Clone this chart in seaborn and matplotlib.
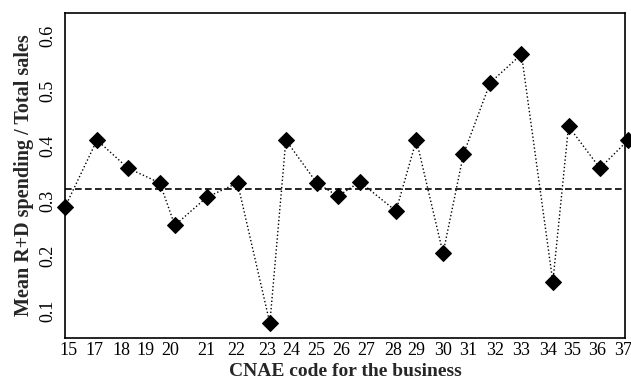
import matplotlib
matplotlib.use("Agg")
import matplotlib.pyplot as plt
import seaborn as sns
import pandas as pd

# CNAE codes (categories) and their plotted horizontal positions
cnae_codes = ["15", "17", "18", "19", "20", "21", "22", "23", "24", "25", "26",
              "27", "28", "29", "30", "31", "32", "33", "34", "35", "36", "37"]
code_pos = [0, 2.04, 4.01, 6.05, 7.0, 9.04, 11.0, 13.06, 14.08, 16.05, 17.4,
            18.8, 21.1, 22.4, 24.1, 25.4, 27.1, 29.1, 31.1, 32.1, 34.1, 35.9]
# horizontal positions of the tick labels
label_pos = [0.25, 1.85, 3.57, 5.1, 6.7, 9.0, 10.9, 12.9, 14.4, 16.0, 17.6,
             19.2, 20.9, 22.4, 24.1, 25.7, 27.4, 29.1, 30.8, 32.3, 33.9, 35.55]
# Mean R+D spending / total sales
ratio = [0.289, 0.411, 0.360, 0.333, 0.256, 0.307, 0.333, 0.078, 0.411, 0.333, 0.309,
         0.335, 0.282, 0.411, 0.205, 0.385, 0.515, 0.567, 0.153, 0.436, 0.360, 0.411]
reference_level = 0.322
y_ticks = [0.1, 0.2, 0.3, 0.4, 0.5, 0.6]

df = pd.DataFrame({"pos": code_pos, "ratio": ratio, "code": cnae_codes})

sns.set_theme(style="white")
plt.rcParams["font.family"] = ["Liberation Serif", "DejaVu Serif"]

fig = plt.figure(figsize=(6.31, 3.82), dpi=100)
ax = fig.add_axes([0.103, 0.115, 0.8875, 0.851])

sns.lineplot(data=df, x="pos", y="ratio", ax=ax, color="black", linestyle=":",
             linewidth=1.0, marker="D", markersize=8.5, markeredgecolor="black",
             markerfacecolor="black", clip_on=False, sort=False)
ax.axhline(reference_level, color="black", linestyle="--", linewidth=1.2, dashes=(4, 2))

ax.set_xlim(0, 35.7)
ax.set_ylim(0.051, 0.642)
ax.set_xticks(label_pos)
ax.set_xticklabels(cnae_codes, fontsize=13)
ax.set_yticks(y_ticks)
ax.set_yticklabels([f"{v:.1f}" for v in y_ticks], fontsize=13, rotation=90, va="center")
ax.tick_params(axis="both", length=0, colors="black")
ax.tick_params(axis="x", pad=3)
ax.tick_params(axis="y", pad=6)

for s in ax.spines.values():
    s.set_visible(True)
    s.set_color("black")
    s.set_linewidth(1.2)

ax.set_xlabel("CNAE code for the business", fontsize=14, fontweight="bold", labelpad=3)
ax.set_ylabel("Mean R+D spending / Total sales", fontsize=14.5, fontweight="bold", labelpad=4)

fig.savefig("out.png", dpi=100)
